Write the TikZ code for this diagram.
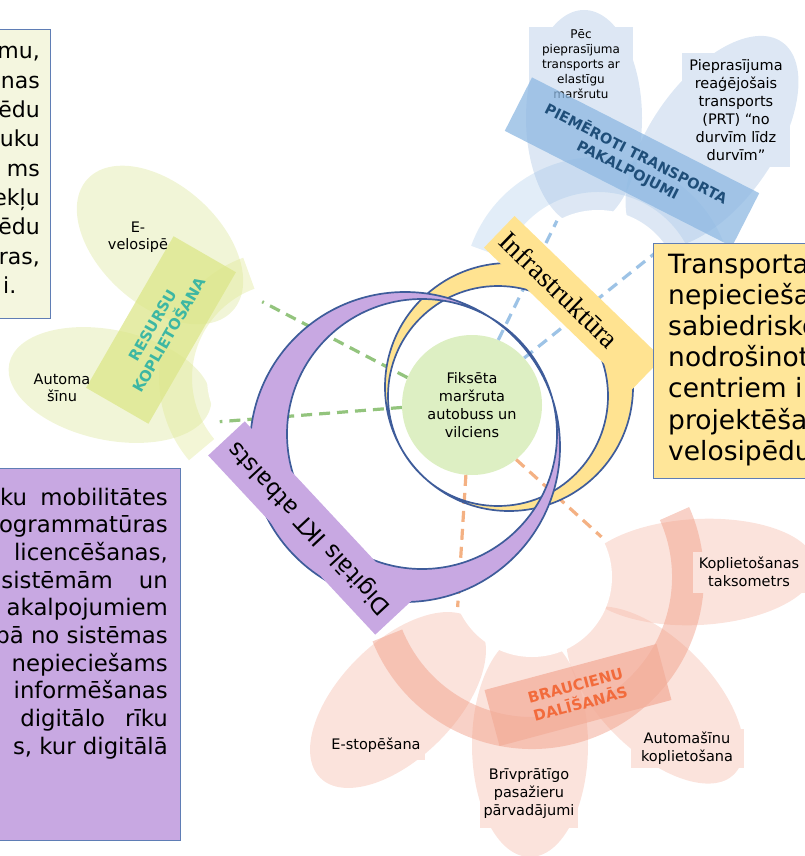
\documentclass[tikz,border=0pt]{standalone}
\usepackage{fontspec}
\setmainfont{DejaVu Sans}
\newfontfamily\infrafont{Liberation Serif}
\usepackage{xcolor}
\usetikzlibrary{positioning}

\definecolor{ringblue}{HTML}{3E5C9A}
\definecolor{infrayellow}{HTML}{FFE391}
\definecolor{ictpurple}{HTML}{C8A8E2}
\definecolor{fixgreen}{HTML}{DDEFC3}
\definecolor{leafgreen}{HTML}{DDE79A}
\definecolor{bandgreen}{HTML}{DCE68A}
\definecolor{tealtext}{HTML}{3DB7A3}
\definecolor{leafblue}{HTML}{A9C4E4}
\definecolor{bandblue}{HTML}{8DB8E2}
\definecolor{navytext}{HTML}{1F4E79}
\definecolor{leafpink}{HTML}{F5B9A8}
\definecolor{bandpink}{HTML}{F09A82}
\definecolor{orangetext}{HTML}{F26B3C}
\definecolor{notegreen}{HTML}{F4F6DF}
\definecolor{noteyellow}{HTML}{FFE699}
\definecolor{noteblue}{HTML}{5F7DB5}
\definecolor{dashgreen}{HTML}{93C47D}
\definecolor{dashblue}{HTML}{9DC3E6}
\definecolor{dashorange}{HTML}{F4B183}

\begin{document}
\begin{tikzpicture}[x=1pt, y=-1pt,
    leaf/.style={fill=#1, fill opacity=0.4},
    bandarc/.style={fill=#1, fill opacity=0.55},
    hub/.style={circle, fill=white, inner sep=0pt, minimum size=#1},
    bandlabel/.style={fill=#1, fill opacity=0.75, text opacity=1, align=center, font=\bfseries\fontsize{15}{19}\selectfont},
    leaflabel/.style={fill=#1, align=center, inner sep=2pt, font=\fontsize{14.5}{18}\selectfont},
    dashlink/.style={draw=#1, line width=3.2pt, dash pattern=on 11pt off 7pt},
    ring/.style={draw=ringblue, line width=1.7pt},
    note/.style={draw=noteblue, line width=1pt, fill=#1},
    notetext/.style={font=\fontsize{22}{29}\selectfont, inner sep=0pt}]

    \useasboundingbox (0,0) rectangle (805,856);
    \clip (0,0) rectangle (805,856);

    \coordinate (hl) at (287,378);
    \coordinate (ht) at (598,292);
    \coordinate (hb) at (532,577);

    % resource sharing
    \fill[leaf=leafgreen, rotate around={-42:(160,245)}] (160,245) ellipse (98 and 60);
    \fill[leaf=leafgreen, rotate around={-12:(110,385)}] (110,385) ellipse (103 and 55);
    \fill[bandarc=bandgreen, fill opacity=0.35] (hl) ++(140:128) arc[start angle=140, end angle=250, radius=128] -- ++(250:-33) arc[start angle=250, end angle=140, radius=95] -- cycle;
    \node[bandlabel=bandgreen, text=tealtext, rotate=60, minimum width=175pt, minimum height=72pt] (resursi) at (161,330) {RESURSU\\KOPLIETOŠANA};
    \node[hub=160pt] (hubleft) at (hl) {};
    \node[align=center, font=\fontsize{14.5}{17.5}\selectfont] (evelo) at (138,237) {E-\\velosipē};
    \node[align=center, font=\fontsize{14.5}{17.5}\selectfont] (automa) at (62,388) {Automa\\šīnu};

    % transport services
    \fill[leaf=leafblue] (584,118) ellipse (58 and 108);
    \fill[leaf=leafblue, rotate around={55:(712,142)}] (712,142) ellipse (122 and 62);
    \fill[bandarc=bandblue, fill opacity=0.25] (ht) ++(200:135) arc[start angle=200, end angle=340, radius=135] -- ++(340:-35) arc[start angle=340, end angle=200, radius=100] -- cycle;
    \node[leaflabel=leafblue!40, font=\fontsize{12}{15}\selectfont, minimum width=104pt, minimum height=73pt] (pec) at (581,64) {Pēc\\pieprasījuma\\transports ar\\elastīgu\\maršrutu};
    \node[leaflabel=leafblue!40, minimum width=108pt, minimum height=114pt] (prt) at (736,110) {Pieprasījuma\\reaģējošais\\transports\\(PRT) “no\\durvīm līdz\\durvīm”};
    \node[bandlabel=bandblue, text=navytext, rotate=-27, minimum width=255pt, minimum height=60pt, font=\bfseries\fontsize{14.5}{18}\selectfont] (piemeroti) at (632,162) {PIEMĒROTI TRANSPORTA\\PAKALPOJUMI};
    \node[hub=164pt] (hubtop) at (ht) {};

    % ride sharing
    \fill[leaf=leafpink, rotate around={45:(398,700)}] (398,700) ellipse (110 and 58);
    \fill[leaf=leafpink] (530,745) ellipse (58 and 112);
    \fill[leaf=leafpink, rotate around={-45:(655,695)}] (655,695) ellipse (112 and 56);
    \fill[leaf=leafpink, rotate around={3:(698,572)}] (698,572) ellipse (118 and 53);
    \fill[bandarc=bandpink, fill opacity=0.45] (hb) ++(158:172) arc[start angle=158, end angle=-24, radius=172] -- ++(-24:-32) arc[start angle=-24, end angle=158, radius=140] -- cycle;
    \node[bandlabel=bandpink!80, text=orangetext, rotate=15, minimum width=178pt, minimum height=58pt] (brauc) at (578,695) {BRAUCIENU\\DALĪŠANĀS};
    \node[leaflabel=leafpink!40, minimum width=97pt, minimum height=30pt] (estop) at (376,745) {E-stopēšana};
    \node[leaflabel=leafpink!40, minimum width=98pt, minimum height=68pt] (brivpr) at (529,794) {Brīvprātīgo\\pasažieru\\pārvadājumi};
    \node[leaflabel=leafpink!40, minimum width=113pt, minimum height=39pt] (autokopl) at (687,748) {Automašīnu\\koplietošana};
    \node[leaflabel=leafpink!40, minimum width=113pt, minimum height=41pt] (taxi) at (749,572) {Koplietošanas\\taksometrs};
    \node[hub=160pt] (hubbottom) at (hb) {};

    % core
    \node[circle, fill=fixgreen, minimum size=140pt, align=center, font=\fontsize{14.5}{18}\selectfont] (fixed) at (472,405) {Fiksēta\\maršruta\\autobuss un\\vilciens};

    \draw[dashlink=dashgreen] (fixed.157) -- (hubleft.108);
    \draw[dashlink=dashgreen] (fixed.182) -- (hubleft.213);
    \draw[dashlink=dashblue] (fixed.68) -- (hubtop.120);
    \draw[dashlink=dashblue] (fixed.42) -- (hubtop.35);
    \draw[dashlink=dashorange] (fixed.265) -- (hubbottom.202);
    \draw[dashlink=dashorange] (fixed.309) -- (hubbottom.30);

    \fill[infrayellow, even odd rule] (509,387) circle[radius=124] (498,396) circle[radius=110];
    \draw[ring] (509,387) circle[radius=124] (498,396) circle[radius=110];
    \fill[ictpurple, even odd rule] (405,447) circle[radius=155] (422,434) circle[radius=135];
    \draw[ring] (405,447) circle[radius=155] (422,434) circle[radius=135];

    \node[fill=infrayellow, rotate=-44, minimum width=205pt, minimum height=44pt, text width=192pt, align=left, font=\infrafont\fontsize{28}{30}\selectfont] (infra) at (573,303) {Infrastruktūra};
    \node[fill=ictpurple, rotate=133, minimum width=245pt, minimum height=50pt, font=\fontsize{23}{26}\selectfont] (ikt) at (310,528) {Digitāls IKT atbalsts};

    % notes
    \draw[note=notegreen] (-5,30) rectangle (50,318);
    \foreach \word [count=\i from 0] in {{mu,},nas,ēdu,uku,ms,ekļu,ēdu,{ras,}}
        \node[notetext, anchor=base east] (lt\i) at (40,{59+29.3*\i}) {\word};
    \node[notetext, anchor=base west] (lt8) at (3,293) {i.};

    \draw[note=noteyellow] (653,243) rectangle (815,478);
    \foreach \word [count=\i from 0] in {Transporta,nepiecieša,sabiedrisko,nodrošinot,centriem i,projektēša,velosipēdu}
        \node[notetext, font=\fontsize{26.5}{31}\selectfont, anchor=base west] (rt\i) at (668,{273+31.2*\i}) {\word};

    \draw[note=ictpurple] (-5,468) rectangle (180,840);
    \foreach \word [count=\i from 0] in {{ku\hspace{6pt} mobilitātes},ogrammatūras,{licencēšanas,},{sistēmām\hspace{26pt}un},akalpojumiem,bā no sistēmas,nepieciešams,informēšanas,{digitālo\hspace{20pt}rīku},{s, kur digitālā}}
        \node[notetext, font=\fontsize{22.8}{29}\selectfont, anchor=base east] (pt\i) at (168,{505+27.7*\i}) {\word};
\end{tikzpicture}
\end{document}
